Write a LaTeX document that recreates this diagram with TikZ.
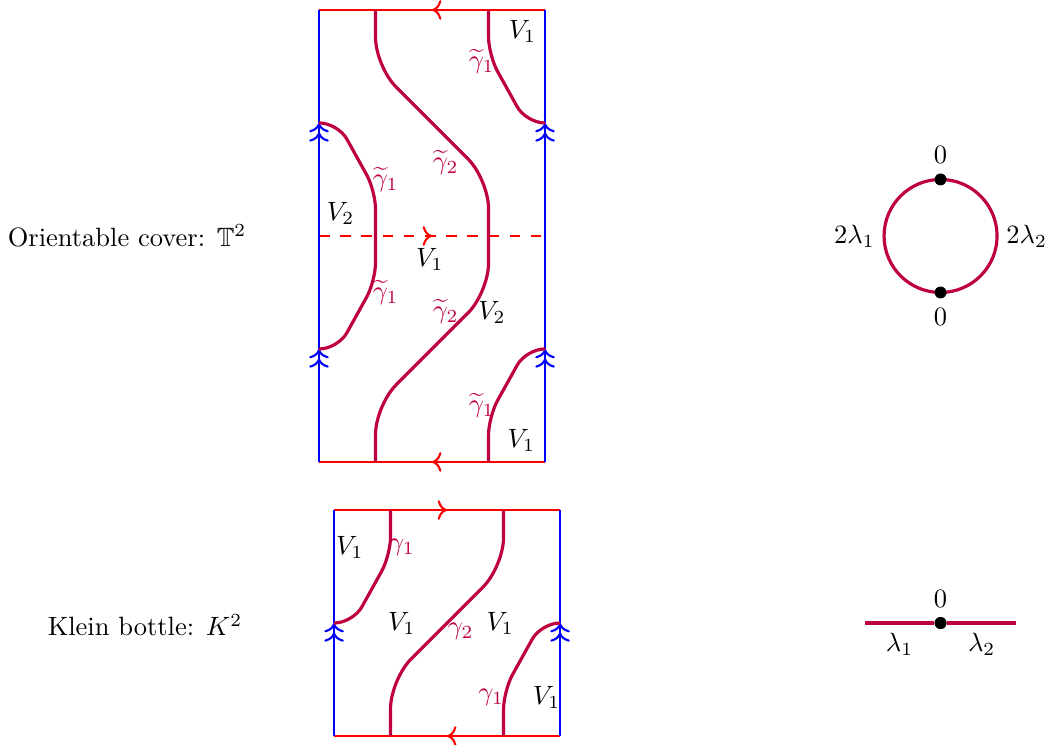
\documentclass[tikz,border=0pt]{standalone}
\usepackage{amsmath,amssymb}
\usetikzlibrary{decorations.markings,arrows.meta}

\tikzset{
    rededge/.style={red, thick},
    blueedge/.style={blue, thick},
    midarrow/.style={postaction={decorate}, decoration={markings, mark=at position 0.5 with {\arrow{>}}}},
    cycle curve/.style={purple, very thick, rounded corners=7pt},
    vlab/.style={inner sep=1pt},
    glab/.style={purple, inner sep=1pt},
    zerodot/.style={circle, fill=black, inner sep=0pt, minimum size=4.5pt},
    zerolab/.style={label distance=-2.5pt},
}

\begin{document}
\begin{tikzpicture}[>={Computer Modern Rightarrow[scale=1.05]}, x=1.5cm, y=1.5cm]
    \useasboundingbox (-2.823,-2.496) rectangle (6.442,4.088);

    % ==================== Upper: orientable cover ====================
    \begin{scope}[shift={(0,0)}]
        % red edges (top, bottom) and the dashed middle line
        \draw[rededge, midarrow] (2,4) -- (0,4);
        \draw[rededge, midarrow] (2,0) -- (0,0);
        \draw[rededge, dash pattern=on 4pt off 4pt, midarrow] (0,2) -- (2,2);

        % blue edges with double arrows
        \foreach \x in {0,2} {
            \draw[blueedge, ->>] (\x,0) -- (\x,1);
            \draw[blueedge, ->>] (\x,1) -- (\x,3);
            \draw[blueedge] (\x,3) -- (\x,4);
        }

        % lifted curves
        \draw[cycle curve] (1.5,4) -- (1.5,3.6) -- (1.833,3) -- (2,3);
        \draw[cycle curve] (0,3) -- (0.167,3) -- (0.5,2.4) -- (0.5,1.6) -- (0.167,1) -- (0,1);
        \draw[cycle curve] (2,1) -- (1.833,1) -- (1.5,0.4) -- (1.5,0);
        \draw[cycle curve, rounded corners=11pt] (0.5,4) -- (0.5,3.5) -- (1.5,2.5) -- (1.5,1.5) -- (0.5,0.5) -- (0.5,0);

        % labels
        \node[vlab] (tv1a) at (1.80,3.81) {$V_1$};
        \node[glab] (tg1a) at (1.44,3.54) {$\widetilde{\gamma}_1$};
        \node[vlab] (tv2a) at (0.19,2.20) {$V_2$};
        \node[glab] (tg1b) at (0.59,2.50) {$\widetilde{\gamma}_1$};
        \node[glab] (tg2a) at (1.12,2.65) {$\widetilde{\gamma}_2$};
        \node[vlab] (tv1b) at (0.98,1.79) {$V_1$};
        \node[glab] (tg1c) at (0.59,1.50) {$\widetilde{\gamma}_1$};
        \node[glab] (tg2b) at (1.12,1.33) {$\widetilde{\gamma}_2$};
        \node[vlab] (tv2b) at (1.53,1.32) {$V_2$};
        \node[glab] (tg1d) at (1.44,0.50) {$\widetilde{\gamma}_1$};
        \node[vlab] (tv1c) at (1.79,0.19) {$V_1$};

        \node[anchor=east] (orient) at (-0.56,2) {Orientable cover: $\mathbb{T}^2$};
    \end{scope}

    % ==================== Lower: Klein bottle ====================
    \begin{scope}[shift={(0.133,-2.425)}]
        \draw[rededge, midarrow] (0,2) -- (2,2);
        \draw[rededge, midarrow] (2,0) -- (0,0);

        \foreach \x in {0,2} {
            \draw[blueedge, ->>] (\x,0) -- (\x,1);
            \draw[blueedge] (\x,1) -- (\x,2);
        }

        \draw[cycle curve] (0.5,2) -- (0.5,1.6) -- (0.167,1) -- (0,1);
        \draw[cycle curve, rounded corners=11pt] (1.5,2) -- (1.5,1.5) -- (0.5,0.5) -- (0.5,0);
        \draw[cycle curve] (2,1) -- (1.833,1) -- (1.5,0.4) -- (1.5,0);

        \node[vlab] (kv1a) at (0.14,1.67) {$V_1$};
        \node[glab] (kg1a) at (0.60,1.67) {$\gamma_1$};
        \node[vlab] (kv1b) at (0.60,1.00) {$V_1$};
        \node[glab] (kg2)  at (1.12,0.93) {$\gamma_2$};
        \node[vlab] (kv1c) at (1.47,1.00) {$V_1$};
        \node[glab] (kg1b) at (1.39,0.34) {$\gamma_1$};
        \node[vlab] (kv1d) at (1.88,0.34) {$V_1$};

        \node[anchor=east] (klein) at (-0.73,0.98) {Klein bottle: $K^2$};
    \end{scope}

    % ==================== Right: the graphs ====================
    % circle for the cover
    \draw[cycle curve] (5.5,2) circle (0.5);
    \node[zerodot, zerolab, label={above:$0$}] (ztop) at (5.5,2.5) {};
    \node[zerodot, zerolab, label={below:$0$}] (zbot) at (5.5,1.5) {};
    \node[left] (l1c) at (5,2) {$2\lambda_1$};
    \node[right] (l2c) at (6,2) {$2\lambda_2$};

    % segment for the Klein bottle
    \coordinate (sa) at (4.83,-1.425);
    \coordinate (sb) at (6.17,-1.425);
    \node[zerodot, zerolab, label={above:$0$}] (zmid) at (5.5,-1.425) {};
    \draw[cycle curve] (sa) -- (zmid) node[midway, below, black] (l1s) {$\lambda_1$};
    \draw[cycle curve] (zmid) -- (sb) node[midway, below, black] (l2s) {$\lambda_2$};
    \node[zerodot] at (zmid) {};
\end{tikzpicture}
\end{document}
